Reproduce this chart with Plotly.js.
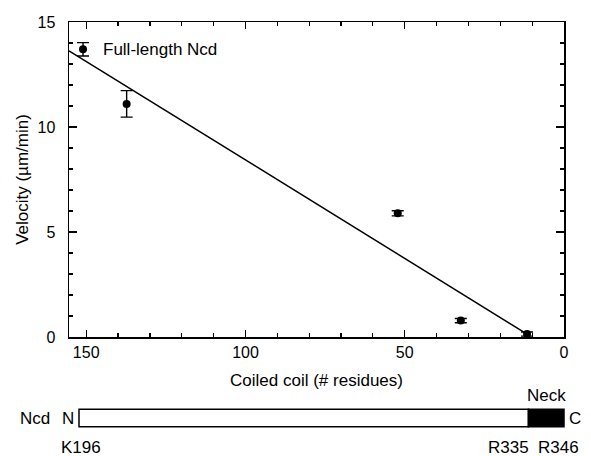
<!DOCTYPE html>
<html>
<head>
<meta charset="utf-8">
<script src="https://cdn.plot.ly/plotly-3.0.1.min.js"></script>
<style>html,body{margin:0;padding:0;background:#fff;}#chart{width:591px;height:456px;}</style>
</head>
<body>
<div id="chart"></div>
<script>
// Data
const coilResidues = [151, 137.3, 52.2, 32.4, 11.6];
const velocity     = [13.7, 11.1, 5.89, 0.78, 0.14];
const velocityErr  = [0.32, 0.63, 0.12, 0.1, 0.1];
const fitX = [155.4, 11.6];
const fitY = [13.63, 0.14];
// Ncd construct diagram (residue numbers)
const domainStart = 196;   // K196
const neckStart = 335;     // R335
const domainEnd = 346;     // R346

const FONT = 'Liberation Sans, Arial, Helvetica, sans-serif';

// schematic scale: residue number -> fraction of the plot width
const diagLeft = 0.0202;
const diag = r => diagLeft + (r - domainStart) / (domainEnd - domainStart) * (1 - diagLeft);

const traces = [
  {x: fitX, y: fitY, mode: 'lines', type: 'scatter', line: {color: '#000', width: 1.5}},
  {x: coilResidues, y: velocity, mode: 'markers', type: 'scatter', marker: {color: '#000', size: 8},
   error_y: {type: 'data', array: velocityErr, visible: true, color: '#000', thickness: 1.4, width: 6}}
];

const barTop = -0.2295, barBot = -0.2848, barMid = (barTop + barBot) / 2;

const layout = {
  width: 591, height: 456,
  margin: {l: 69, r: 27, t: 22, b: 119},
  font: {family: FONT, color: '#000', size: 16},
  showlegend: false,
  xaxis: {
    range: [155.4, 0], tickmode: 'linear', tick0: 0, dtick: 50,
    ticks: 'inside', ticklen: 7, tickwidth: 1.3, tickcolor: '#000',
    minor: {dtick: 10, ticks: 'inside', ticklen: 4, tickwidth: 1.2, tickcolor: '#000'},
    showline: true, linewidth: 1.5, linecolor: '#000', mirror: 'ticks',
    showgrid: false, zeroline: false,
    title: {text: 'Coiled coil (# residues)', font: {size: 17}, standoff: 14}
  },
  yaxis: {
    range: [0, 15], tickmode: 'linear', tick0: 0, dtick: 5,
    ticks: 'inside', ticklen: 8, tickwidth: 1.3, tickcolor: '#000',
    minor: {dtick: 1, ticks: 'inside', ticklen: 4, tickwidth: 1.2, tickcolor: '#000'},
    showline: true, linewidth: 1.5, linecolor: '#000', mirror: 'ticks',
    showgrid: false, zeroline: false, ticksuffix: '\u00a0\u00a0',
    title: {text: 'Velocity (µm/min)', font: {size: 17}, standoff: 4}
  },
  shapes: [
    {type: 'rect', xref: 'paper', yref: 'paper', x0: diag(domainStart), x1: diag(neckStart), y0: barBot, y1: barTop,
     line: {color: '#000', width: 1.5}, fillcolor: '#fff'},
    {type: 'rect', xref: 'paper', yref: 'paper', x0: diag(neckStart), x1: diag(domainEnd), y0: barBot, y1: barTop,
     line: {color: '#000', width: 1.5}, fillcolor: '#000'}
  ],
  annotations: [
    {x: coilResidues[0], y: velocity[0], xref: 'x', yref: 'y', text: 'Full-length Ncd',
     showarrow: false, xanchor: 'left', yanchor: 'middle', xshift: 18, font: {size: 17}},
    {x: diag(domainStart), y: barMid, xref: 'paper', yref: 'paper', text: 'N',
     showarrow: false, xanchor: 'right', yanchor: 'middle', xshift: -3, font: {size: 17}},
    {x: diag(domainStart), y: barMid, xref: 'paper', yref: 'paper', text: 'Ncd',
     showarrow: false, xanchor: 'right', yanchor: 'middle', xshift: -27, font: {size: 17}},
    {x: diag(domainEnd), y: barMid, xref: 'paper', yref: 'paper', text: 'C',
     showarrow: false, xanchor: 'left', yanchor: 'middle', xshift: 3, font: {size: 17}},
    {x: diag((neckStart + domainEnd) / 2), y: barTop, xref: 'paper', yref: 'paper', text: 'Neck',
     showarrow: false, xanchor: 'center', yanchor: 'bottom', yshift: 2, font: {size: 17}},
    {x: diag(domainStart), y: barBot, xref: 'paper', yref: 'paper', text: 'K' + domainStart,
     showarrow: false, xanchor: 'center', yanchor: 'top', xshift: 2, yshift: -9, font: {size: 17}},
    {x: diag(neckStart), y: barBot, xref: 'paper', yref: 'paper', text: 'R' + neckStart,
     showarrow: false, xanchor: 'right', yanchor: 'top', xshift: 3, yshift: -9, font: {size: 17}},
    {x: diag(domainEnd), y: barBot, xref: 'paper', yref: 'paper', text: 'R' + domainEnd,
     showarrow: false, xanchor: 'center', yanchor: 'top', xshift: -6, yshift: -9, font: {size: 17}}
  ]
};

Plotly.newPlot('chart', traces, layout, {staticPlot: true});
</script>
</body>
</html>
